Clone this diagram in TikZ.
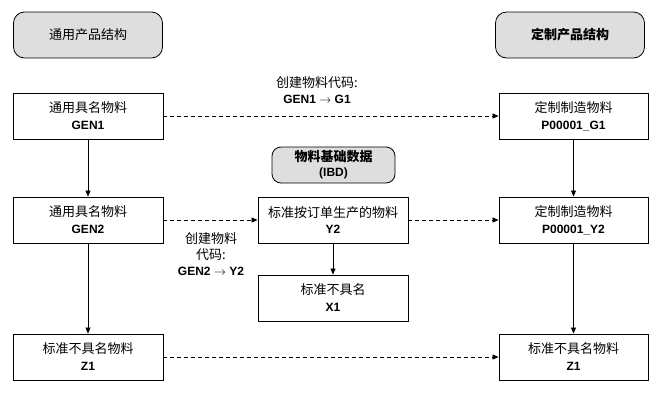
\documentclass[tikz,border=0pt]{standalone}
\usepackage{fontspec}
\setmainfont{Liberation Sans}
\newfontfamily\cjk{Noto Sans CJK SC}
\usetikzlibrary{arrows.meta}
\definecolor{hdrfill}{RGB}{222,222,222}
\tikzset{
  box/.style={draw, line width=0.9pt, minimum width=150pt, minimum height=46pt, align=center, inner sep=0pt, font=\fontsize{12}{17}\selectfont},
  hdr/.style={draw, line width=0.8pt, rounded corners=11pt, fill=hdrfill, minimum width=149pt, minimum height=46pt, align=center, inner sep=0pt, font=\fontsize{12}{17}\selectfont},
  arr/.style={line width=0.8pt, -{Triangle[length=6pt,width=5pt]}},
  darr/.style={arr, dash pattern=on 4pt off 3pt},
  lbl/.style={align=center, inner sep=0pt, font=\fontsize{12}{16}\selectfont},
}
\newcommand{\zh}[1]{{\cjk\fontsize{13}{17}\selectfont #1}}
\begin{document}
\begin{tikzpicture}[x=1pt,y=-1pt]
\useasboundingbox (0,0) rectangle (666,408);
\node[hdr] (hL) at (88,35) {\zh{通用产品结构}};
\node[hdr] (hR) at (570,35) {\zh{\bfseries 定制产品结构}};
\node[box] (gen1) at (88,116) {\zh{通用具名物料}\\\textbf{GEN1}};
\node[box, minimum width=149pt] (g1) at (573.5,116) {\zh{定制制造物料}\\\textbf{P00001\_G1}};
\node[hdr, minimum width=123pt, minimum height=36pt, rounded corners=9pt, font=\fontsize{12}{15}\selectfont] (ibd) at (333.5,165) {\zh{\bfseries 物料基础数据}\\\textbf{(IBD)}};
\node[box] (gen2) at (88,220) {\zh{通用具名物料}\\\textbf{GEN2}};
\node[box] (y2) at (333,220) {\zh{标准按订单生产的物料}\\\textbf{Y2}};
\node[box, minimum width=149pt] (py2) at (573.5,220) {\zh{定制制造物料}\\\textbf{P00001\_Y2}};
\node[box] (x1) at (333,298) {\zh{标准不具名}\\\textbf{X1}};
\node[box] (z1L) at (88,357) {\zh{标准不具名物料}\\\textbf{Z1}};
\node[box, minimum width=149pt] (z1R) at (573.5,357) {\zh{标准不具名物料}\\\textbf{Z1}};
\node[lbl] (l1) at (317,90) {\zh{创建物料代码:}\\\textbf{GEN1 $\rightarrow$ G1}};
\node[lbl] (l2) at (211,254) {\zh{创建物料}\\\zh{代码:}\\\textbf{GEN2 $\rightarrow$ Y2}};
\draw[darr] (gen1) -- (g1);
\draw[darr] (gen2) -- (y2);
\draw[darr] (y2) -- (py2);
\draw[darr] (z1L) -- (z1R);
\draw[arr] (gen1) -- (gen2);
\draw[arr] (gen2) -- (z1L);
\draw[arr] (y2) -- (x1);
\draw[arr] (g1) -- (py2);
\draw[arr] (py2) -- (z1R);
\end{tikzpicture}
\end{document}
